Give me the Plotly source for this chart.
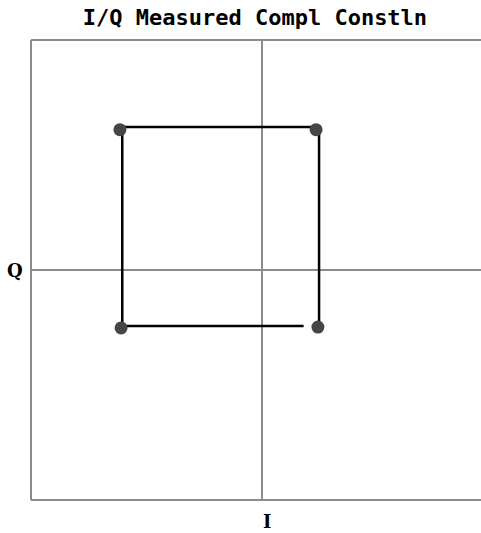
import plotly.graph_objects as go

# measured constellation points (I, Q), normalised units
i_vals = [0.242, 0.234, -0.615, -0.610]
q_vals = [-0.248, 0.610, 0.610, -0.252]

# trace order for the connecting path
path_i = [0.18, -0.605, -0.605, 0.247, 0.247]
path_q = [-0.243, -0.243, 0.622, 0.622, -0.243]

title = "I/Q Measured Compl Constln"
font = "DejaVu Sans Mono"

fig = go.Figure()
fig.add_trace(go.Scatter(x=path_i, y=path_q, mode="lines",
                         line=dict(color="black", width=2.5), hoverinfo="skip"))
fig.add_trace(go.Scatter(x=i_vals, y=q_vals, mode="markers",
                         marker=dict(color="#454545", size=13)))

gray = "#8c8c8c"
# plot frame (left, top, bottom) - right side runs off the picture
for x0, y0, x1, y1 in [(0, 0, 0, 1), (0, 1, 1, 1), (0, 0, 1, 0)]:
    fig.add_shape(type="line", xref="paper", yref="paper", x0=x0, y0=y0, x1=x1, y1=y1,
                  line=dict(color=gray, width=2))

fig.add_annotation(text="<b>Q</b>", xref="paper", yref="y", x=-0.013, y=0, showarrow=False,
                   xanchor="right", font=dict(family="DejaVu Serif", size=18, color="black"))
fig.add_annotation(text="<b>I</b>", xref="x", yref="paper", x=0.02, y=-0.02, showarrow=False,
                   yanchor="top", font=dict(family="DejaVu Serif", size=18, color="black"))

fig.update_layout(
    width=481, height=533,
    margin=dict(l=31, r=0, t=40, b=33),
    paper_bgcolor="white", plot_bgcolor="white",
    showlegend=False,
    title=dict(text="<b>" + title + "</b>", x=0.53, xanchor="center", y=0.968, yanchor="middle",
               font=dict(family=font, size=22, color="black")),
    xaxis=dict(range=[-1.0, 0.948], showgrid=False, showticklabels=False, ticks="",
               zeroline=True, zerolinecolor=gray, zerolinewidth=2),
    yaxis=dict(range=[-1.0, 1.0], showgrid=False, showticklabels=False, ticks="",
               zeroline=True, zerolinecolor=gray, zerolinewidth=2),
)

# drop the default 8px page margin so the figure sits at the window corner
fig.write_html("out.html", config={"displayModeBar": False},
               post_script="document.body.style.margin='0';")
